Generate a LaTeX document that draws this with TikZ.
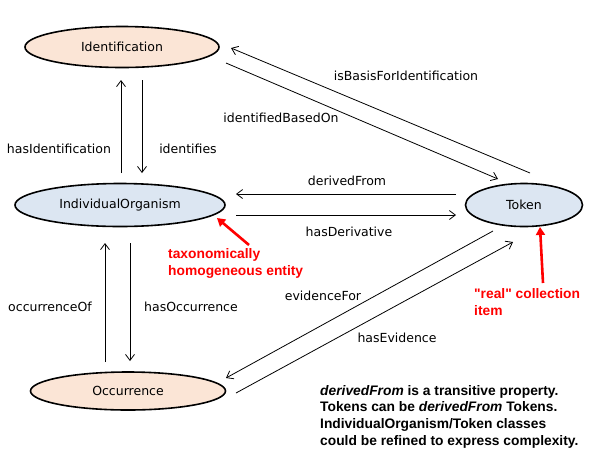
\documentclass[tikz,border=0pt]{standalone}
\usepackage{fontspec}
\setmainfont{DejaVu Sans}
\newfontfamily\arialfont{Liberation Sans}
\usetikzlibrary{shapes.geometric,arrows.meta,calc}
\definecolor{peach}{HTML}{FBE5D6}
\definecolor{lblue}{HTML}{DCE6F2}
\definecolor{redc}{HTML}{FF0000}
\begin{document}
\begin{tikzpicture}[x=1pt,y=-1pt,
  cls/.style={ellipse,draw,line width=1.6pt,inner sep=0pt,font=\fontsize{12.5}{15}\selectfont},
  lbl/.style={font=\fontsize{12.5}{15}\selectfont,inner sep=0pt},
  rel/.style={line width=0.8pt,-{Straight Barb[length=6pt,width=9pt]}},
  redlbl/.style={font=\arialfont\bfseries\fontsize{13.8}{17}\selectfont,text=redc,align=left,inner sep=0pt,anchor=north west},
  notelbl/.style={font=\arialfont\bfseries\fontsize{13.8}{16.7}\selectfont,align=left,inner sep=0pt,anchor=north west},
  redarr/.style={draw=redc,line width=2.6pt,-{Triangle[length=8pt,width=9pt]},redc}
]
\useasboundingbox (0,0) rectangle (608,467);

\node[cls,fill=peach,minimum width=194pt,minimum height=41pt] (I) at (122,47) {Identification};
\node[cls,fill=lblue,minimum width=210pt,minimum height=43pt] (IO) at (120,205) {IndividualOrganism};
\node[cls,fill=lblue,minimum width=117pt,minimum height=43pt] (T) at (524,205) {Token};
\node[cls,fill=peach,minimum width=195pt,minimum height=38pt] (O) at (128,391) {Occurrence};

% Identification <-> IndividualOrganism
\draw[rel] ($(IO)+(1,-32)$) -- ($(I)+(-1,33)$);
\draw[rel] ($(I)+(20,33)$) -- ($(IO)+(22,-32)$);
\node[lbl] (l1) at (59,149) {hasIdentification};
\node[lbl] (l2) at (188,149) {identifies};

% Identification <-> Token
\draw[rel] ($(T)+(6,-32)$) -- ($(I)+(109,1)$);
\draw[rel] ($(I)+(104,16)$) -- ($(T)+(-26,-26)$);
\node[lbl] (l3) at (406,76) {isBasisForIdentification};
\node[lbl] (l4) at (281,118) {identifiedBasedOn};

% IndividualOrganism <-> Token
\draw[rel] ($(T)+(-68,-11)$) -- ($(IO)+(116,-11)$);
\draw[rel] ($(IO)+(116,10)$) -- ($(T)+(-68,10)$);
\node[lbl] (l5) at (347,181) {derivedFrom};
\node[lbl] (l6) at (349,232) {hasDerivative};

% IndividualOrganism <-> Occurrence
\draw[rel] ($(O)+(-23,-29)$) -- ($(IO)+(-15,38)$);
\draw[rel] ($(IO)+(10,38)$) -- ($(O)+(2,-30)$);
\node[lbl] (l7) at (50,307) {occurrenceOf};
\node[lbl] (l8) at (191,307) {hasOccurrence};

% Occurrence <-> Token
\draw[rel] ($(T)+(-31,26)$) -- ($(O)+(98,-13)$);
\draw[rel] ($(O)+(108,2)$) -- ($(T)+(-11,37)$);
\node[lbl] (l9) at (323,296) {evidenceFor};
\node[lbl] (l10) at (397,338) {hasEvidence};

% red annotations
\node[redlbl] (r1) at (168,248) {taxonomically\\homogeneous entity};
\coordinate (r1s) at (249,245);
\draw[redarr] (r1s) -- ($(IO)+(97,13)$);
\node[redlbl] (r2) at (474,288) {"real" collection\\item};
\coordinate (r2s) at (543,283);
\draw[redarr] (r2s) -- ($(T)+(16,22)$);

\node[notelbl] (note) at (320,385) {\itshape derivedFrom\upshape{} is a transitive property.\\Tokens can be \itshape derivedFrom\upshape{} Tokens.\\IndividualOrganism/Token classes\\could be refined to express complexity.};
\end{tikzpicture}
\end{document}
